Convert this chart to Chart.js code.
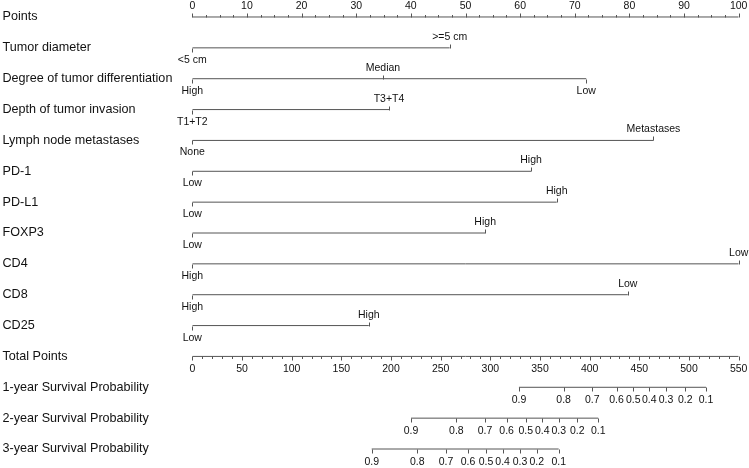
<!DOCTYPE html>
<html>
<head>
<meta charset="utf-8">
<script src="https://cdn.jsdelivr.net/npm/chart.js@4"></script>
<style>
  html, body { margin: 0; padding: 0; background: #fff; }
  #wrap { width: 749px; height: 468px; position: relative; }
</style>
</head>
<body>
<div id="wrap"><canvas id="nomo"></canvas></div>
<script>
// row names, top to bottom
var rowLabels = ['Points', 'Tumor diameter', 'Degree of tumor differentiation', 'Depth of tumor invasion',
  'Lymph node metastases', 'PD-1', 'PD-L1', 'FOXP3', 'CD4', 'CD8', 'CD25', 'Total Points',
  '1-year Survival Probability', '2-year Survival Probability', '3-year Survival Probability'];

var pointTicks = [0, 10, 20, 30, 40, 50, 60, 70, 80, 90, 100];
var totalTicks = [0, 50, 100, 150, 200, 250, 300, 350, 400, 450, 500, 550];

// points for each level
var tumorLevels = ['<5 cm', '>=5 cm'];
var tumorPoints = [0, 47.1];
var diffLevels = ['High', 'Median', 'Low'];
var diffPoints = [0, 34.9, 72.1];
var depthLevels = ['T1+T2', 'T3+T4'];
var depthPoints = [0, 36];
var lymphLevels = ['None', 'Metastases'];
var lymphPoints = [0, 84.4];
var pd1Levels = ['Low', 'High'];
var pd1Points = [0, 62];
var pdl1Levels = ['Low', 'High'];
var pdl1Points = [0, 66.7];
var foxp3Levels = ['Low', 'High'];
var foxp3Points = [0, 53.6];
var cd4Levels = ['High', 'Low'];
var cd4Points = [0, 100];
var cd8Levels = ['High', 'Low'];
var cd8Points = [0, 79.7];
var cd25Levels = ['Low', 'High'];
var cd25Points = [0, 32.3];

// survival probability labels and where they sit on the Total Points scale
var survProbs = ['0.9', '0.8', '0.7', '0.6', '0.5', '0.4', '0.3', '0.2', '0.1'];
var surv1yTotal = [328.8, 373.8, 402.6, 427, 443.8, 459.9, 476.8, 496.2, 517.1];
var surv2yTotal = [220.2, 265.8, 294.6, 316.4, 335.6, 352.2, 368.8, 387.5, 408.6];
var surv3yTotal = [180.6, 226.5, 255.3, 277.5, 295.6, 312.4, 329.8, 346.7, 368.8];

var varRows = [
  [tumorLevels, tumorPoints], [diffLevels, diffPoints], [depthLevels, depthPoints],
  [lymphLevels, lymphPoints], [pd1Levels, pd1Points], [pdl1Levels, pdl1Points],
  [foxp3Levels, foxp3Points], [cd4Levels, cd4Points], [cd8Levels, cd8Points],
  [cd25Levels, cd25Points]
];
var survRows = [surv1yTotal, surv2yTotal, surv3yTotal];

var lineColor = '#555';
var textColor = '#111';
var font = '"Liberation Sans", Arial, sans-serif';

function seg(x0, x1, row, axis) {
  return {
    data: [{x: x0, y: row}, {x: x1, y: row}],
    xAxisID: axis, borderColor: lineColor, borderWidth: 1,
    pointRadius: 0, fill: false
  };
}

var datasets = [];
datasets.push(seg(pointTicks[0], pointTicks[pointTicks.length - 1], 0, 'x'));
varRows.forEach(function (r, i) {
  var p = r[1];
  datasets.push(seg(Math.min.apply(null, p), Math.max.apply(null, p), i + 1, 'x'));
});
datasets.push(seg(totalTicks[0], totalTicks[totalTicks.length - 1], 11, 'xt'));
survRows.forEach(function (s, i) {
  datasets.push(seg(s[0], s[s.length - 1], 12 + i, 'xt'));
});

function vline(ctx, x, y0, y1) {
  x = Math.round(x) + 0.5;
  ctx.beginPath();
  ctx.moveTo(x, y0);
  ctx.lineTo(x, y1);
  ctx.stroke();
}

var nomoPlugin = {
  id: 'nomo',
  afterDatasetsDraw: function (chart) {
    var ctx = chart.ctx;
    var xs = chart.scales.x, xt = chart.scales.xt, ys = chart.scales.y;
    ctx.save();
    ctx.strokeStyle = lineColor;
    ctx.lineWidth = 1;
    ctx.fillStyle = textColor;

    // row names
    ctx.font = '12.6px ' + font;
    ctx.textAlign = 'left';
    ctx.textBaseline = 'middle';
    rowLabels.forEach(function (lab, i) {
      ctx.fillText(lab, 2.5, ys.getPixelForValue(i));
    });

    ctx.font = '10.5px ' + font;
    ctx.textAlign = 'center';

    // Points axis: ticks up, labels above
    var y0 = Math.round(ys.getPixelForValue(0)) + 0.5;
    for (var v = 0; v <= 100; v += 2.5) {
      var major = v % 10 === 0;
      vline(ctx, xs.getPixelForValue(v), y0, y0 - (major ? 4 : 2.5));
    }
    pointTicks.forEach(function (t) {
      ctx.fillText(String(t), xs.getPixelForValue(t), y0 - 11);
    });

    // variable rows: even levels below, odd levels above
    varRows.forEach(function (r, i) {
      var y = Math.round(ys.getPixelForValue(i + 1)) + 0.5;
      r[1].forEach(function (p, j) {
        var x = xs.getPixelForValue(p);
        var up = j % 2 === 1;
        vline(ctx, x, y, up ? y - 4 : y + 4);
        ctx.fillText(r[0][j], x, up ? y - 11 : y + 12);
      });
    });

    // Total Points: ticks down, labels below
    var yt = Math.round(ys.getPixelForValue(11)) + 0.5;
    for (var w = 0; w <= 550; w += 10) {
      vline(ctx, xt.getPixelForValue(w), yt, yt + (w % 50 === 0 ? 4 : 2.5));
    }
    totalTicks.forEach(function (t) {
      ctx.fillText(String(t), xt.getPixelForValue(t), yt + 13);
    });

    // survival probability rows
    survRows.forEach(function (s, i) {
      var y = Math.round(ys.getPixelForValue(12 + i)) + 0.5;
      s.forEach(function (tp, j) {
        var x = xt.getPixelForValue(tp);
        vline(ctx, x, y, y + 4);
        ctx.fillText(survProbs[j], x, y + 13);
      });
    });
    ctx.restore();
  }
};

new Chart(document.getElementById('nomo'), {
  type: 'line',
  data: { datasets: datasets },
  options: {
    responsive: true,
    maintainAspectRatio: false,
    animation: false,
    layout: { padding: { left: 192.3, right: 10.3, top: 1.57, bottom: 3.57 } },
    plugins: { legend: { display: false }, tooltip: { enabled: false } },
    scales: {
      x: { type: 'linear', min: 0, max: 100, display: false },
      xt: { type: 'linear', min: 0, max: 550, display: false, position: 'bottom' },
      y: { type: 'linear', min: -0.5, max: 14.5, reverse: true, display: false }
    }
  },
  plugins: [nomoPlugin]
});
</script>
</body>
</html>
